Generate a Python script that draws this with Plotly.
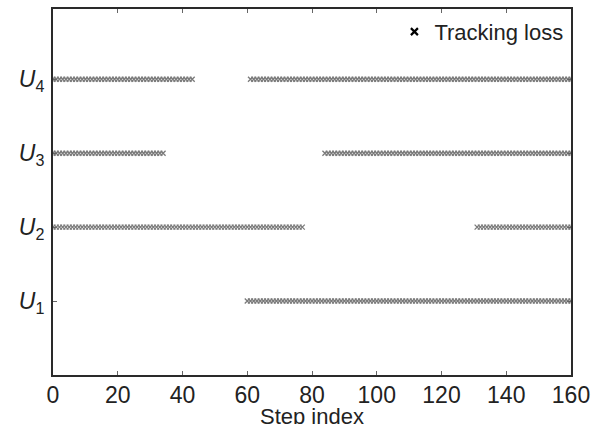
import plotly.graph_objects as go

# Tracking-loss intervals (inclusive step ranges) per user
users = ["U1", "U2", "U3", "U4"]
user_levels = [1, 2, 3, 4]
loss_intervals = {
    "U1": [(60, 160)],
    "U2": [(0, 77), (131, 160)],
    "U3": [(0, 34), (84, 160)],
    "U4": [(0, 43), (61, 160)],
}
x_ticks = [0, 20, 40, 60, 80, 100, 120, 140, 160]
y_ticktext = ["<i>U</i><sub>1</sub>", "<i>U</i><sub>2</sub>",
              "<i>U</i><sub>3</sub>", "<i>U</i><sub>4</sub>"]
x_title = "Step index"

FONT = "Liberation Sans, Arial"

fig = go.Figure()

for name, level in zip(users, user_levels):
    steps = []
    for start, end in loss_intervals[name]:
        steps.extend(range(start, end + 1))
    fig.add_trace(go.Scatter(
        x=steps, y=[level] * len(steps), mode="markers",
        marker=dict(symbol="x-thin", size=5, color="#7a7a7a",
                    line=dict(width=1.3, color="#7a7a7a")),
        showlegend=False, hoverinfo="x+y",
    ))

# legend entry
fig.add_trace(go.Scatter(
    x=[None], y=[None], mode="markers", name="Tracking loss",
    marker=dict(symbol="x-thin", size=7, color="black",
                line=dict(width=2.2, color="black")),
))

axis_common = dict(
    showline=True, linecolor="#2a2a2a", linewidth=2, mirror="ticks",
    ticks="inside", ticklen=4, tickcolor="#666", showgrid=False, zeroline=False,
    automargin=False,
    tickfont=dict(family=FONT, size=23, color="#222"),
)

fig.update_layout(
    width=596, height=424,
    margin=dict(l=53, r=25, t=9, b=49),
    paper_bgcolor="white", plot_bgcolor="white",
    xaxis=dict(range=[0, 160], tickvals=x_ticks, ticklabelstandoff=-2,
               **axis_common),
    yaxis=dict(range=[0, 4.95], tickvals=user_levels, ticktext=y_ticktext,
               ticklabelstandoff=2, **axis_common),
    legend=dict(x=0.995, y=0.995, xanchor="right", yanchor="top",
                bgcolor="rgba(255,255,255,0)",
                font=dict(family=FONT, size=22, color="#222"),
                itemwidth=30, tracegroupgap=0),
    annotations=[dict(
        text=x_title, xref="paper", yref="paper", x=0.5, y=-0.113,
        xanchor="center", yanchor="middle", showarrow=False,
        font=dict(family=FONT, size=22, color="#222"),
    )],
)

fig.write_html("out.html")
